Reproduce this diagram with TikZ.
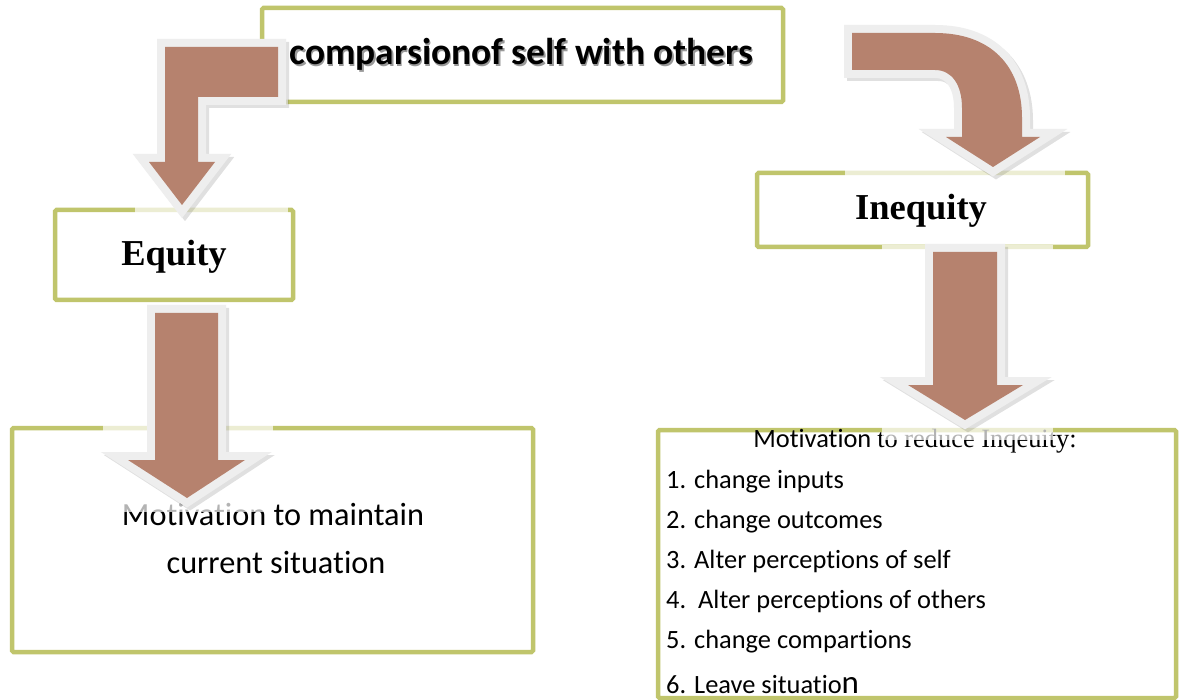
\documentclass[tikz,border=0pt]{standalone}
\usepackage{fontspec}
\setmainfont[Ligatures=NoCommon]{Carlito}
\newfontfamily\serifface{Liberation Serif}
\definecolor{boxline}{RGB}{192,197,108}
\definecolor{arrowfill}{RGB}{182,130,110}
\definecolor{arrowedge}{RGB}{238,238,238}
\begin{document}
\begin{tikzpicture}[x=1pt,y=-1pt,
  box/.style={draw=boxline, line width=4.5pt, rounded corners=1.5pt, fill=white, inner sep=0pt},
  arrowbody/.style={fill=arrowfill, preaction={draw=arrowedge, line width=16pt, line join=miter, miter limit=10}},
  arrowshade/.style={draw=black, opacity=0.12, line width=16pt, line join=miter, miter limit=10},
  backdrop/.style={fill=white, opacity=0.7},
  label/.style={inner sep=0pt, anchor=base},
  item/.style={inner sep=0pt, anchor=base west, font=\fontsize{26.4}{30}\selectfont},
]
\useasboundingbox (0,0) rectangle (1180,700);
\fill[white] (0,0) rectangle (1180,700);

% boxes
\node[box, minimum width=521, minimum height=94] (cmp) at (522.5,55) {};
\node[box, minimum width=238, minimum height=90] (eq) at (174,255) {};
\node[box, minimum width=331, minimum height=74] (ineq) at (922.5,210) {};
\node[box, minimum width=521, minimum height=224] (keep) at (272.5,540) {};
\node[box, minimum width=518, minimum height=268] (reduce) at (917,564) {};

% box texts
\node[label, text=black!40, font=\fontsize{37.4}{40}\selectfont\bfseries] (cmpshade) at (523,66.5) {comparsionof self with others};
\node[label, font=\fontsize{37.4}{40}\selectfont\bfseries] (cmptext) at (521.5,65) {comparsionof self with others};
\node[label, font=\serifface\fontsize{36.5}{40}\selectfont\bfseries] (eqtext) at (174,266) {Equity};
\node[label, font=\serifface\fontsize{36.5}{40}\selectfont\bfseries] (ineqtext) at (921,220) {Inequity};
\node[label, font=\fontsize{32.3}{36}\selectfont] (keep1) at (273,525) {Motivation to maintain};
\node[label, font=\fontsize{32.3}{36}\selectfont] (keep2) at (276,573) {current situation};
\node[label, font=\fontsize{26.4}{30}\selectfont] (head) at (915,447) {Motivation {\serifface to reduce Inqeuity:}};
\node[item] (i1) at (666,488) {1. change inputs};
\node[item] (i2) at (666,528) {2. change outcomes};
\node[item] (i3) at (666,568) {3. Alter perceptions of self};
\node[item] (i4) at (666,608) {4.\ \ Alter perceptions of others};
\node[item] (i5) at (666,648) {5. change compartions};
\node[item] (i6) at (666,693) {6. Leave situatio{\fontsize{33}{36}\selectfont n}};

% white backdrops of the arrow pictures
\fill[backdrop] (135,42) rectangle (288,225);
\fill[backdrop] (103,305) rectangle (273,512);
\fill[backdrop] (845,24) rectangle (1065,185);
\fill[backdrop] (882,245) rectangle (1053,440);

% arrow outlines
\def\bentarrow{(278,47) -- (165,47) -- (165,162) -- (149,162) -- (182,205) -- (215,162) -- (198,162) -- (198,97) -- (278,97) -- cycle}
\def\leftdown{(155,313) -- (218,313) -- (218,460) -- (245,460) -- (187,498) -- (128,460) -- (155,460) -- cycle}
\def\curvedarrow{(852,33) -- (935,33) .. controls (990,33) and (1022,65) .. (1022,118) -- (1022,137) -- (1040,137) -- (993,167) -- (946,137) -- (962,137) -- (962,108) .. controls (962,85) and (952,70) .. (935,70) -- (852,70) -- cycle}
\def\rightdown{(933,252) -- (997,252) -- (997,385) -- (1023,385) -- (965,420) -- (908,385) -- (933,385) -- cycle}

\begin{scope}[xshift=3pt, yshift=-3pt]
  \draw[arrowshade] \bentarrow;
  \draw[arrowshade] \leftdown;
  \draw[arrowshade] \curvedarrow;
  \draw[arrowshade] \rightdown;
\end{scope}

\path[arrowbody] \bentarrow;
\path[arrowbody] \leftdown;
\path[arrowbody] \curvedarrow;
\path[arrowbody] \rightdown;
\end{tikzpicture}
\end{document}
